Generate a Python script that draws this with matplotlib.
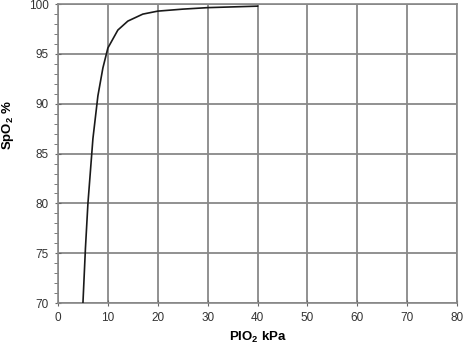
import matplotlib
matplotlib.use("Agg")
import matplotlib.pyplot as plt
from matplotlib.ticker import MultipleLocator

plt.rcParams['font.family'] = ['Liberation Sans', 'DejaVu Sans']
plt.rcParams['mathtext.fontset'] = 'custom'
plt.rcParams['mathtext.bf'] = 'Liberation Sans:bold'
plt.rcParams['mathtext.rm'] = 'Liberation Sans'

# PIO2 (kPa) vs SpO2 (%)
pio2 = [5, 5.5, 6, 7, 8, 9, 10, 12, 14, 17, 20, 25, 30, 40]
spo2 = [70, 75.5, 80, 86.5, 90.8, 93.6, 95.6, 97.4, 98.3, 99.0, 99.3, 99.5, 99.65, 99.8]

fig = plt.figure(figsize=(4.64, 3.46), dpi=100)
ax = fig.add_axes([0.125, 0.124, 0.86, 0.864])

ax.plot(pio2, spo2, color='#1a1a1a', lw=1.2, zorder=3)

ax.set_xlim(0, 80)
ax.set_ylim(70, 100)
ax.xaxis.set_major_locator(MultipleLocator(10))
ax.yaxis.set_major_locator(MultipleLocator(5))
ax.yaxis.set_minor_locator(MultipleLocator(1))
ax.grid(True, which='major', color='#888888', lw=1.3)

for s in ax.spines.values():
    s.set_color('#888888')
    s.set_linewidth(1.2)

ax.tick_params(axis='both', which='major', direction='inout', length=5, color='#666666',
               labelsize=8.5, labelcolor='#333333', pad=4)
ax.tick_params(axis='y', which='minor', direction='out', length=3, color='#666666')

ax.set_xlabel(r'PIO$_{\mathbf{2}}$ kPa', fontsize=9.5, fontweight='bold', labelpad=4)
ax.set_ylabel(r'SpO$_{\mathbf{2}}$ %', fontsize=9.5, fontweight='bold')
ax.yaxis.set_label_coords(-0.105, 0.595)

fig.savefig('out.png', dpi=100)
